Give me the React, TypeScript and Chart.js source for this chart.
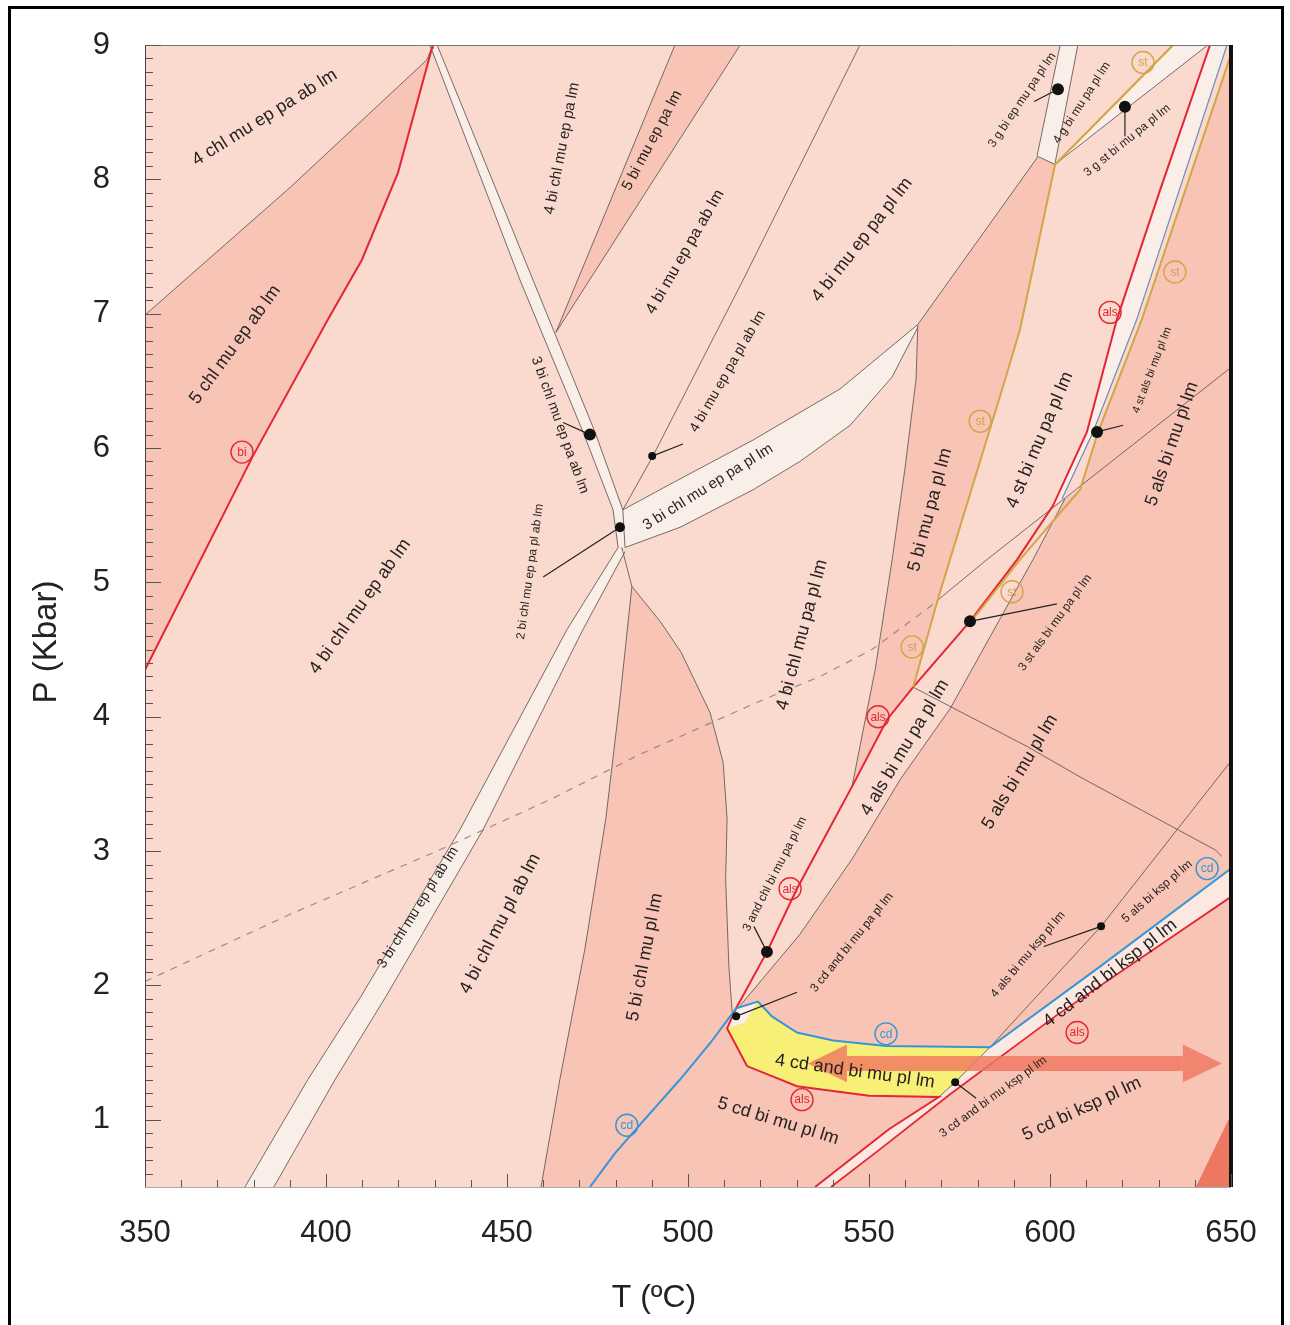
import React, { useEffect, useRef } from "react";
import { Chart, registerables } from "chart.js";

Chart.register(...registerables);

type Pt = [number, number];

// ---------- axis ----------
const xMajorTicks = [350, 400, 450, 500, 550, 600, 650];
const yMajorTicks = [1, 2, 3, 4, 5, 6, 7, 8, 9];
const xTitle = "T (ºC)";
const yTitle = "P (Kbar)";

// ---------- colours ----------
const C_LIGHT = "rgb(250,218,206)";
const C_DARK = "rgb(247,196,181)";
const C_WHITE = "rgb(250,238,233)";
const C_WHITE2 = "rgb(251,232,224)";
const C_YELLOW = "rgb(248,240,118)";
const C_TRI = "rgb(236,120,98)";
const C_GRAY = "rgba(95,85,85,0.85)";
const C_RED = "rgb(228,38,52)";
const C_GOLD = "rgb(212,164,72)";
const C_BLUE = "rgb(52,150,214)";
const C_STEEL = "rgb(110,140,180)";
const C_ARROW = "rgba(240,120,95,0.82)";

// ---------- field polygons (T, P) ----------
const plotArea: Pt[] = [[350, 0.5], [650, 0.5], [650, 9], [350, 9]];
const chlUpper: Pt[] = [[350, 6.99], [390.1, 7.94], [427.9, 8.89], [429.5, 9.0]];
const redBi: Pt[] = [[350, 4.35], [379.8, 5.94], [400.6, 6.96], [409.9, 7.4], [419.9, 8.05], [429.3, 8.98], [429.5, 9.0]];
const wedge: Pt[] = [[463.5, 6.86], [496.4, 9.0], [514.4, 9.0]];
const line8: Pt[] = [[547.5, 9.0], [515.2, 7.25], [490.1, 5.93], [482.0, 5.54]];
const w1Left: Pt[] = [[428.7, 9.0], [453.6, 7.25], [471.0, 6.12], [479.3, 5.54], [480.7, 5.26]];
const w1Right: Pt[] = [[430.7, 9.0], [457.2, 7.25], [474.3, 6.12], [482.0, 5.54], [482.6, 5.26]];
const w2Upper: Pt[] = [[482.0, 5.54], [495.0, 5.73], [518.0, 6.06], [542.0, 6.44], [563.5, 6.92]];
const w2Lower: Pt[] = [[482.6, 5.26], [497.8, 5.41], [518.0, 5.69], [530.9, 5.9], [544.8, 6.17], [556.4, 6.53], [563.5, 6.9]];
const w3Left: Pt[] = [[480.7, 5.26], [466.6, 4.65], [437.0, 3.16], [409.7, 1.92], [395.0, 1.3], [377.6, 0.5]];
const w3Right: Pt[] = [[482.6, 5.23], [471.0, 4.65], [443.4, 3.16], [416.6, 1.92], [402.5, 1.3], [385.6, 0.5]];
const junction: Pt[] = [[481.7, 5.26], [484.5, 4.97]];
const d3Left: Pt[] = [[484.5, 4.97], [481.2, 4.13], [477.3, 3.24], [471.5, 2.27], [464.6, 1.3], [459.4, 0.5]];
const d3Right: Pt[] = [[484.5, 4.97], [492.3, 4.71], [498.1, 4.48], [506.1, 4.03], [509.7, 3.66], [510.8, 3.24], [510.4, 2.79], [511.3, 2.14], [512.2, 1.8]];
const blueCd: Pt[] = [[472.9, 0.5], [479.8, 0.75], [487.6, 0.99], [497.8, 1.3], [506.1, 1.57], [513.3, 1.83], [519.3, 1.88], [523.2, 1.77], [530.1, 1.65], [540.1, 1.59], [554.7, 1.55], [583.4, 1.54], [613.8, 2.14], [650, 2.87]];
const d4Left: Pt[] = [[563.5, 6.92], [563.0, 6.51], [559.9, 5.84], [556.4, 5.17], [551.7, 4.35], [545.3, 3.48]];
const d4Top: Pt[] = [[563.5, 6.92], [596.7, 8.17], [601.4, 8.11]];
const gold1: Pt[] = [[601.4, 8.11], [591.7, 6.88], [587.6, 6.51], [569.3, 4.9], [562.2, 4.22]];
const gold2: Pt[] = [[650, 8.93], [625.4, 6.96], [613.3, 6.12], [608.3, 5.69], [591.7, 5.17], [578.5, 4.72]];
const gold3: Pt[] = [[601.4, 8.11], [634.0, 9.0]];
const gBandL: Pt[] = [[596.4, 8.17], [602.8, 9.0]];
const gBandR: Pt[] = [[601.4, 8.12], [607.7, 9.0]];
const gstEdge: Pt[] = [[601.8, 8.12], [643.6, 9.0]];
const steelLine: Pt[] = [[648.9, 9.0], [624.0, 6.96], [611.9, 6.12], [603.3, 5.62]];
const redAls: Pt[] = [[535.1, 0.5], [555.5, 0.93], [569.3, 1.17], [550.0, 1.18], [530.1, 1.25], [516.3, 1.4], [510.8, 1.68], [513.3, 1.83], [521.8, 2.25], [530.1, 2.72], [536.5, 3.04], [545.3, 3.48], [555.0, 3.98], [562.2, 4.22], [577.9, 4.71], [590.9, 5.17], [600.8, 5.57], [610.2, 6.12], [618.5, 6.96], [630.4, 7.92], [644.2, 9.0]];
const redAls2: Pt[] = [[539.5, 0.5], [553.0, 0.78], [572.4, 1.19], [601.4, 1.77], [650, 2.66]];
const gray4als: Pt[] = [[604.1, 5.62], [595.3, 5.17], [572.4, 4.06], [558.8, 3.54], [545.3, 2.94], [530.9, 2.38], [514.4, 1.85]];
const dashedLine: Pt[] = [[350, 2.03], [390.1, 2.53], [431.5, 3.01], [462.4, 3.39], [486.7, 3.72], [521.0, 4.13], [536.5, 4.3], [550.8, 4.5], [566.9, 4.82], [570.4, 4.9]];
const solidLine: Pt[] = [[570.4, 4.9], [582.6, 5.17], [650, 6.6]];
const line14: Pt[] = [[562.2, 4.22], [593.6, 3.78], [609.1, 3.54], [645.6, 3.01], [647.5, 2.96]];
const line15: Pt[] = [[650, 3.67], [614.1, 2.44], [583.4, 1.54]];
const yellowRight: Pt[] = [[569.3, 1.17], [573.8, 1.28], [583.4, 1.54]];

const d1Poly: Pt[] = [...chlUpper, ...redBi.slice().reverse()];
const d3Poly: Pt[] = [...d3Right, [513.3, 1.83], [506.1, 1.57], [497.8, 1.3], [487.6, 0.99], [479.8, 0.75], [472.9, 0.5], ...d3Left.slice().reverse()];
const d4Poly: Pt[] = [[563.5, 6.92], [596.7, 8.17], ...gold1, [555.0, 3.98], [545.3, 3.48], [551.7, 4.35], [556.4, 5.17], [559.9, 5.84], [563.0, 6.51]];
const d5Poly: Pt[] = [...gold2.slice(0, 4), ...gray4als, [513.3, 1.83], [506.1, 1.57], [497.8, 1.3], [487.6, 0.99], [479.8, 0.75], [472.9, 0.5], [650, 0.5]];
const w1Poly: Pt[] = [...w1Left, ...w1Right.slice().reverse()];
const w2Poly: Pt[] = [...w2Upper, ...w2Lower.slice().reverse()];
const w3Poly: Pt[] = [...w3Left, ...w3Right.slice().reverse()];
const w4Poly: Pt[] = [[596.4, 8.17], [602.8, 9.0], [607.7, 9.0], [601.4, 8.12]];
const w5Poly: Pt[] = [[601.4, 8.11], [634.0, 9.0], [643.6, 9.0], [601.8, 8.12]];
const w6Poly: Pt[] = [[600.8, 5.57], [610.2, 6.12], [618.5, 6.96], [630.4, 7.92], [644.2, 9.0], ...steelLine];
const wBottomPoly: Pt[] = [[569.3, 1.17], [573.8, 1.28], [583.4, 1.54], [613.8, 2.14], [650, 2.87], [650, 2.66], [601.4, 1.77], [572.4, 1.19], [553.0, 0.78], [539.5, 0.5], [535.1, 0.5], [555.5, 0.93]];
const wSmallPoly: Pt[] = [[510.8, 1.68], [513.3, 1.83], [519.3, 1.88], [515.7, 1.72]];
const yellowPoly: Pt[] = [[519.3, 1.88], [523.2, 1.77], [530.1, 1.65], [540.1, 1.59], [554.7, 1.55], [583.4, 1.54], [573.8, 1.28], [569.3, 1.17], [550.0, 1.18], [530.1, 1.25], [516.3, 1.4], [510.8, 1.68], [515.7, 1.72]];
const cornerTri: Pt[] = [[640.3, 0.5], [650, 1.04], [650, 0.5]];

// ---------- arrow ----------
const arrowShaft: Pt[] = [[543.9, 1.42], [636.7, 1.42]];
const arrowHeadL: Pt[] = [[533.1, 1.42], [543.9, 1.56], [543.9, 1.28]];
const arrowHeadR: Pt[] = [[647.5, 1.42], [636.7, 1.56], [636.7, 1.28]];

// ---------- invariant points ----------
const dotPoints: Pt[] = [[472.9, 6.1], [490.1, 5.94], [481.2, 5.41], [602.2, 8.67], [620.7, 8.54], [613.0, 6.12], [577.9, 4.71], [521.8, 2.25], [513.3, 1.77], [614.1, 2.44], [573.8, 1.28]];
const dotSizes = [6, 4, 5, 6, 6, 6, 6, 6, 4, 4, 4];
const leaders: Pt[][] = [
  [[472.9, 6.1], [465.5, 6.19]],
  [[490.1, 5.94], [498.6, 6.03]],
  [[481.2, 5.41], [460.0, 5.04]],
  [[602.2, 8.67], [595.6, 8.58]],
  [[620.7, 8.54], [620.7, 8.32]],
  [[613.0, 6.12], [620.2, 6.17]],
  [[577.9, 4.71], [601.9, 4.84]],
  [[521.8, 2.25], [518.2, 2.44]],
  [[513.3, 1.77], [530.1, 1.95]],
  [[614.1, 2.44], [598.3, 2.29]],
  [[573.8, 1.28], [579.6, 1.16]],
];

// ---------- circled phase tags ----------
const circleTags: [string, number, number, string][] = [
  ["bi", 376.8, 5.97, C_RED],
  ["als", 616.6, 7.01, C_RED],
  ["als", 552.5, 4.0, C_RED],
  ["als", 528.2, 2.72, C_RED],
  ["als", 531.5, 1.15, C_RED],
  ["als", 607.5, 1.65, C_RED],
  ["st", 625.7, 8.87, C_GOLD],
  ["st", 634.5, 7.31, C_GOLD],
  ["st", 580.7, 6.2, C_GOLD],
  ["st", 589.5, 4.93, C_GOLD],
  ["st", 561.9, 4.52, C_GOLD],
  ["cd", 483.1, 0.96, C_BLUE],
  ["cd", 554.7, 1.64, C_BLUE],
  ["cd", 643.4, 2.87, C_BLUE],
];

// ---------- field labels: text, T, P, angle(deg), size ----------
const fieldLabels: [string, number, number, number, number][] = [
  ["4 chl mu ep pa ab lm", 383.1, 8.46, -32, 18],
  ["5 chl mu ep ab lm", 374.9, 6.77, -54, 18],
  ["4 bi chl mu ep ab lm", 409.4, 4.82, -54.5, 18],
  ["4 bi chl mu ep pa lm", 465.2, 8.23, -79, 15],
  ["5 bi mu ep pa lm", 490.1, 8.29, -62, 15],
  ["4 bi mu ep pa ab lm", 499.2, 7.46, -60, 16],
  ["4 bi mu ep pa pl lm", 548.1, 7.55, -52, 18],
  ["3 bi chl mu ep pa ab lm", 464.6, 6.17, 70, 14],
  ["4 bi mu ep pa pl ab lm", 511.0, 6.57, -60, 14],
  ["3 bi chl mu ep pa pl lm", 505.5, 5.71, -32, 15],
  ["2 bi chl mu ep pa pl ab lm", 456.4, 5.08, -82, 12],
  ["4 bi chl mu pa pl lm", 531.5, 4.61, -75, 18],
  ["5 bi mu pa pl lm", 566.9, 5.54, -75, 18],
  ["4 st bi mu pa pl lm", 597.2, 6.06, -67, 18],
  ["5 als bi mu pl lm", 633.7, 6.03, -71, 18],
  ["4 st als bi mu pl lm", 628.2, 6.58, -69, 11],
  ["3 g bi ep mu pa pl lm", 592.3, 8.59, -56, 12],
  ["4 g bi mu pa pl lm", 608.8, 8.57, -57, 12],
  ["3 g st bi mu pa pl lm", 621.3, 8.29, -39, 12],
  ["3 st als bi mu pa pl lm", 601.4, 4.7, -54, 12],
  ["4 als bi mu pa pl lm", 559.9, 3.77, -59, 18],
  ["5 als bi mu pl lm", 591.7, 3.59, -59, 18],
  ["3 bi chl mu ep pl ab lm", 425.4, 2.58, -58, 14],
  ["4 bi chl mu pl ab lm", 448.1, 2.46, -62.5, 18],
  ["5 bi chl mu pl lm", 488.1, 2.21, -79, 18],
  ["3 and chl bi mu pa pl lm", 524.0, 2.83, -63, 12],
  ["3 cd and bi mu pa pl lm", 545.3, 2.32, -51, 12],
  ["4 cd and bi mu pl lm", 546.1, 1.36, 8, 18],
  ["5 cd bi mu pl lm", 524.9, 0.99, 17, 18],
  ["4 als bi mu ksp pl lm", 593.9, 2.23, -50, 12],
  ["5 als bi ksp pl lm", 629.6, 2.7, -41, 12],
  ["4 cd and bi ksp pl lm", 616.6, 2.09, -38, 18],
  ["3 cd and bi mu ksp pl lm", 584.3, 1.17, -36, 12],
  ["5 cd bi ksp pl lm", 608.8, 1.08, -25, 18],
];

const FONT = '"Liberation Sans", Arial, Helvetica, sans-serif';
const xy = (pts: Pt[]) => pts.map(([x, y]) => ({ x, y }));

function buildDatasets() {
  const ds: any[] = [];
  const poly = (pts: Pt[], color: string, order: number) =>
    ds.push({ type: "line", data: xy(pts), showLine: true, fill: "shape", backgroundColor: color, borderColor: "rgba(0,0,0,0)", borderWidth: 0, pointRadius: 0, tension: 0, order });
  const line = (pts: Pt[], color: string, width: number, order: number, dash: number[] = []) =>
    ds.push({ type: "line", data: xy(pts), showLine: true, fill: false, borderColor: color, borderWidth: width, borderDash: dash, pointRadius: 0, tension: 0, order });

  poly(plotArea, C_LIGHT, 100);
  poly(d1Poly, C_DARK, 90);
  poly(wedge, C_DARK, 90);
  poly(d3Poly, C_DARK, 90);
  poly(d4Poly, C_DARK, 90);
  poly(d5Poly, C_DARK, 90);
  poly(w1Poly, C_WHITE, 80);
  poly(w2Poly, C_WHITE, 80);
  poly(w3Poly, C_WHITE, 80);
  poly(w4Poly, C_WHITE, 80);
  poly(w5Poly, C_WHITE, 80);
  poly(w6Poly, C_WHITE, 80);
  poly(wBottomPoly, C_WHITE2, 80);
  poly(wSmallPoly, C_WHITE, 80);
  poly(yellowPoly, C_YELLOW, 75);
  poly(cornerTri, C_TRI, 75);

  const thin = [chlUpper, w1Left, w1Right, [wedge[0], wedge[1]], [wedge[0], wedge[2]], line8, w2Upper, w2Lower, w3Left, w3Right, junction, d3Left, d3Right, d4Left, d4Top, gBandL, gBandR, gstEdge, gray4als, solidLine, line14, line15, yellowRight] as Pt[][];
  thin.forEach((p) => line(p, C_GRAY, 1, 50));
  line(dashedLine, "rgba(130,120,120,0.8)", 1.2, 50, [7, 7]);
  line(steelLine, C_STEEL, 1.2, 45);
  line(gold1, C_GOLD, 2, 40);
  line(gold2, C_GOLD, 2, 40);
  line(gold3, C_GOLD, 2.2, 40);
  line(blueCd, C_BLUE, 2, 40);
  line(redBi, C_RED, 2, 40);
  line(redAls, C_RED, 2, 40);
  line(redAls2, C_RED, 1.8, 40);

  line(arrowShaft, C_ARROW, 15, 30);
  poly(arrowHeadL, C_ARROW, 30);
  poly(arrowHeadR, C_ARROW, 30);

  leaders.forEach((p) => line(p, "#222", 1.2, 25));
  ds.push({ type: "line", data: xy(dotPoints), showLine: false, pointRadius: dotSizes, pointBackgroundColor: "#111", pointBorderWidth: 0, pointBorderColor: "#111", order: 10 });
  return ds;
}

const decorPlugin = {
  id: "decor",
  beforeDraw(chart: any) {
    const ctx = chart.ctx;
    ctx.save();
    ctx.fillStyle = "#ffffff";
    ctx.fillRect(0, 0, chart.width, chart.height);
    ctx.restore();
  },
  afterDatasetsDraw(chart: any) {
    const ctx = chart.ctx;
    const xs = chart.scales.x;
    const ys = chart.scales.y;
    ctx.save();
    circleTags.forEach(([t, T, P, col]) => {
      const px = xs.getPixelForValue(T);
      const py = ys.getPixelForValue(P);
      ctx.beginPath();
      ctx.arc(px, py, 11, 0, Math.PI * 2);
      ctx.strokeStyle = col;
      ctx.lineWidth = 1.4;
      ctx.stroke();
      ctx.fillStyle = col;
      ctx.font = `12px ${FONT}`;
      ctx.textAlign = "center";
      ctx.textBaseline = "middle";
      ctx.fillText(t, px, py + 0.5);
    });
    fieldLabels.forEach(([t, T, P, ang, size]) => {
      const px = xs.getPixelForValue(T);
      const py = ys.getPixelForValue(P);
      ctx.save();
      ctx.translate(px, py);
      ctx.rotate((ang * Math.PI) / 180);
      ctx.font = `${size}px ${FONT}`;
      ctx.textAlign = "center";
      ctx.textBaseline = "middle";
      ctx.fillStyle = "#262222";
      ctx.fillText(t, 0, 0);
      ctx.restore();
    });
    ctx.restore();
  },
  afterDraw(chart: any) {
    const ctx = chart.ctx;
    const xs = chart.scales.x;
    const ys = chart.scales.y;
    const { left, right, top, bottom } = chart.chartArea;
    ctx.save();
    ctx.lineWidth = 1;
    ctx.strokeStyle = "#444";
    ctx.beginPath();
    ctx.moveTo(left + 0.5, top);
    ctx.lineTo(left + 0.5, bottom);
    ctx.stroke();
    ctx.strokeStyle = "#777";
    ctx.beginPath();
    ctx.moveTo(left, top + 0.5);
    ctx.lineTo(right, top + 0.5);
    ctx.stroke();
    ctx.strokeStyle = "#aaa";
    ctx.beginPath();
    ctx.moveTo(left, bottom + 0.5);
    ctx.lineTo(right, bottom + 0.5);
    ctx.stroke();
    ctx.lineWidth = 4;
    ctx.strokeStyle = "#111";
    ctx.beginPath();
    ctx.moveTo(right, top);
    ctx.lineTo(right, bottom);
    ctx.stroke();
    ctx.lineWidth = 1;
    ctx.strokeStyle = "#555";
    for (let v = 350; v <= 650; v += 10) {
      const px = Math.round(xs.getPixelForValue(v)) + 0.5;
      const len = v % 50 === 0 ? 13 : 7;
      ctx.beginPath();
      ctx.moveTo(px, bottom);
      ctx.lineTo(px, bottom - len);
      ctx.stroke();
    }
    for (let i = 6; i <= 90; i++) {
      const py = Math.round(ys.getPixelForValue(i / 10)) + 0.5;
      const len = i % 10 === 0 ? 16 : 8;
      ctx.beginPath();
      ctx.moveTo(left, py);
      ctx.lineTo(left + len, py);
      ctx.stroke();
    }
    ctx.fillStyle = "#222";
    ctx.font = `33px ${FONT}`;
    ctx.textAlign = "center";
    ctx.textBaseline = "middle";
    ctx.save();
    ctx.translate(47, 642);
    ctx.rotate(-Math.PI / 2);
    ctx.fillText(yTitle, 0, 0);
    ctx.restore();
    ctx.font = `32px ${FONT}`;
    ctx.fillText(xTitle, 654, 1298);
    ctx.lineWidth = 3;
    ctx.strokeStyle = "#000";
    ctx.strokeRect(9.5, 7.5, 1273, 1345);
    ctx.restore();
  },
};

export default function App() {
  const ref = useRef<HTMLCanvasElement | null>(null);
  useEffect(() => {
    if (!ref.current) return;
    const chart = new Chart(ref.current, {
      type: "line",
      data: { datasets: buildDatasets() },
      options: {
        animation: false,
        responsive: false,
        devicePixelRatio: 1,
        events: [],
        layout: { padding: { left: 0, top: 45, right: 59, bottom: 0 } },
        plugins: { legend: { display: false }, tooltip: { enabled: false }, filler: { propagate: false } },
        scales: {
          x: {
            type: "linear",
            min: 350,
            max: 650,
            afterBuildTicks: (ax: any) => { ax.ticks = xMajorTicks.map((v) => ({ value: v })); },
            afterFit: (s: any) => { s.height = 138; s.paddingLeft = 0; s.paddingRight = 0; },
            grid: { display: false, drawTicks: false },
            border: { display: false },
            ticks: { padding: 28, autoSkip: false, maxRotation: 0, color: "#222", font: { size: 31, family: FONT }, callback: (v: any) => String(v) },
          },
          y: {
            type: "linear",
            min: 0.5,
            max: 9,
            afterBuildTicks: (ax: any) => { ax.ticks = yMajorTicks.map((v) => ({ value: v })); },
            afterFit: (s: any) => { s.width = 145; s.paddingTop = 0; s.paddingBottom = 0; },
            grid: { display: false, drawTicks: false },
            border: { display: false },
            ticks: { padding: 35, autoSkip: false, color: "#222", font: { size: 31, family: FONT }, callback: (v: any) => String(v) },
          },
        },
      } as any,
      plugins: [decorPlugin],
    } as any);
    return () => chart.destroy();
  }, []);
  return (
    <div style={{ position: "absolute", left: 0, top: 0, width: 1290, height: 1325 }}>
      <canvas ref={ref} width={1290} height={1325} style={{ width: 1290, height: 1325, display: "block" }} />
    </div>
  );
}
